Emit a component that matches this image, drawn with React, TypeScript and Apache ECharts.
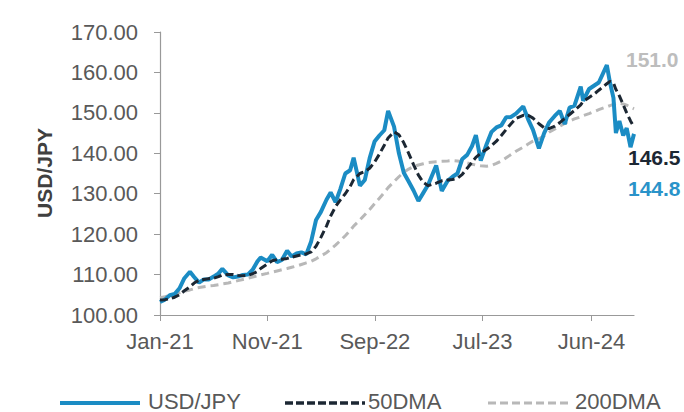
import React, { useEffect, useRef } from "react";
import * as echarts from "echarts";

const dates = [
  "2021-01-04","2021-01-18","2021-02-01","2021-02-15","2021-03-01","2021-03-15","2021-03-31","2021-04-12","2021-04-26","2021-05-10",
  "2021-05-24","2021-06-07","2021-06-21","2021-07-02","2021-07-19","2021-08-02","2021-08-16","2021-08-30","2021-09-13","2021-09-27",
  "2021-10-11","2021-10-20","2021-11-08","2021-11-22","2021-12-06","2021-12-20","2022-01-04","2022-01-17","2022-01-31","2022-02-14",
  "2022-02-28","2022-03-14","2022-03-28","2022-04-11","2022-04-27","2022-05-09","2022-05-23","2022-06-06","2022-06-20","2022-07-04",
  "2022-07-14","2022-08-01","2022-08-15","2022-08-29","2022-09-12","2022-09-26","2022-10-10","2022-10-21","2022-11-07","2022-11-21",
  "2022-12-05","2022-12-19","2023-01-02","2023-01-16","2023-01-30","2023-02-13","2023-03-08","2023-03-24","2023-04-10","2023-04-24",
  "2023-05-08","2023-05-22","2023-06-05","2023-06-19","2023-06-30","2023-07-14","2023-07-31","2023-08-14","2023-08-28","2023-09-11",
  "2023-09-25","2023-10-09","2023-10-23","2023-11-13","2023-11-27","2023-12-11","2023-12-28","2024-01-12","2024-01-26","2024-02-12",
  "2024-02-26","2024-03-11","2024-03-25","2024-04-08","2024-04-26","2024-05-03","2024-05-20","2024-06-03","2024-06-17","2024-07-10",
  "2024-07-19","2024-07-29","2024-08-05","2024-08-15","2024-08-26","2024-09-05","2024-09-16","2024-09-26",
];

const usdJpy = [
  103.2,103.8,104.9,105.2,106.6,109.1,110.7,109.4,108.0,108.8,
  108.8,109.5,110.3,111.4,109.8,109.3,109.5,109.9,110.0,111.2,
  113.3,114.2,113.3,114.9,113.1,113.6,115.9,114.5,115.2,115.5,
  115.0,118.2,123.5,125.5,128.5,130.3,127.9,131.2,135.0,135.8,
  138.9,132.0,133.4,138.8,142.9,144.4,145.7,150.5,146.6,140.0,
  135.2,133.0,130.8,128.2,130.2,132.2,137.0,130.7,133.2,134.2,
  135.0,138.6,139.6,141.8,144.5,138.2,142.3,145.3,146.4,146.9,
  148.9,149.0,149.8,151.6,148.4,145.8,141.2,145.0,147.6,149.3,
  150.5,147.2,151.3,151.8,156.5,153.0,155.9,156.7,157.5,161.8,
  157.5,153.7,145.0,148.0,144.4,146.2,141.5,144.8,
];

const dma50 = [
  103.7,103.8,104.0,104.4,105.0,106.0,107.0,107.9,108.6,108.8,
  109.0,109.1,109.5,109.9,110.0,110.0,109.8,109.7,109.8,110.2,
  110.8,111.5,112.6,113.4,113.7,113.8,114.0,114.3,114.6,114.9,
  115.1,115.6,117.0,119.2,122.0,124.5,126.8,128.5,130.0,131.8,
  133.5,135.0,135.5,136.3,137.8,139.8,142.0,143.8,145.3,144.6,
  142.6,140.0,137.2,134.6,132.8,132.0,132.6,133.2,133.4,133.5,
  133.8,134.8,136.3,137.8,139.0,140.0,141.0,141.9,143.0,144.4,
  145.9,147.3,148.6,149.4,149.4,148.7,147.3,146.3,146.1,146.7,
  147.6,148.6,149.6,150.6,152.0,152.8,153.8,154.6,155.6,157.2,
  157.8,157.4,155.8,154.2,152.0,150.0,148.0,146.5,
];

const dma200 = [
  104.3,104.5,104.8,105.1,105.5,105.9,106.2,106.5,106.8,107.0,
  107.2,107.3,107.5,107.7,107.9,108.2,108.5,108.8,109.1,109.4,
  109.7,109.9,110.3,110.6,110.9,111.2,111.5,111.8,112.1,112.5,
  112.9,113.3,113.9,114.6,115.4,116.3,117.3,118.4,119.6,120.9,
  122.0,123.5,124.8,126.1,127.5,128.9,130.3,131.5,133.0,134.2,
  135.3,136.1,136.7,137.1,137.4,137.7,137.9,138.0,138.1,138.2,
  138.1,137.9,137.6,137.3,137.1,136.9,136.8,137.0,137.5,138.1,
  138.9,139.7,140.5,141.5,142.3,143.0,143.6,144.3,145.2,146.0,
  146.7,147.4,148.0,148.5,149.0,149.3,149.8,150.3,150.8,151.5,
  151.8,152.1,152.3,152.4,152.2,151.9,151.4,151.0,
];

const tickDates = ["2021-01-04", "2021-11-08", "2022-09-13", "2023-07-19", "2024-05-27"];
const tickLabels = ["Jan-21", "Nov-21", "Sep-22", "Jul-23", "Jun-24"];

const yMin = 100;
const yMax = 170;
const yStep = 10;
const yTitle = "USD/JPY";

const seriesNames = ["USD/JPY", "50DMA", "200DMA"];

const FONT = '"Liberation Sans", Arial, Helvetica, sans-serif';

const C_PX = "#1b8cc4";
const C_50 = "#1c2733";
const C_200 = "#b8b8b8";

export default function App() {
  const ref = useRef<HTMLDivElement>(null);

  useEffect(() => {
    document.body.style.margin = "0";
    if (!ref.current) return;
    const chart = echarts.init(ref.current, undefined, { renderer: "svg" });

    const DAY = 86400000;
    const t0 = Date.parse(dates[0]);
    const xs = dates.map((d) => Math.round((Date.parse(d) - t0) / DAY));
    const tickXs = tickDates.map((d) => Math.round((Date.parse(d) - t0) / DAY));
    const mk = (vals: number[]) => xs.map((x, i) => [x, vals[i]]);
    const lastPx = usdJpy[usdJpy.length - 1];
    const last50 = dma50[dma50.length - 1];
    const last200 = dma200[dma200.length - 1];

    const legendItems = [
      { name: seriesNames[0], x1: 60, x2: 140, tx: 148, color: C_PX, dash: null as any, w: 4 },
      { name: seriesNames[1], x1: 285, x2: 365, tx: 368, color: C_50, dash: [8, 3], w: 3.5 },
      { name: seriesNames[2], x1: 488, x2: 572, tx: 575, color: C_200, dash: [8, 4], w: 3 },
    ];
    const legendGraphics: any[] = [];
    legendItems.forEach((it) => {
      legendGraphics.push({
        type: "line",
        shape: { x1: it.x1, y1: 403, x2: it.x2, y2: 403 },
        style: { stroke: it.color, lineWidth: it.w, lineDash: it.dash || undefined },
      });
      legendGraphics.push({
        type: "text",
        x: it.tx,
        y: 401,
        style: { text: it.name, fill: "#595959", font: `22px ${FONT}`, verticalAlign: "middle", align: "left" },
      });
    });

    const option: any = {
      animation: false,
      backgroundColor: "#ffffff",
      textStyle: { fontFamily: FONT },
      grid: {
        left: 160,
        top: 32,
        width: 474,
        height: 283,
        containLabel: false,
        outerBoundsMode: "none",
      },
      xAxis: {
        type: "value",
        min: 0,
        max: xs[xs.length - 1],
        splitLine: { show: false },
        axisLine: { show: true, onZero: false, lineStyle: { color: "#999999", width: 1.2 } },
        axisTick: {
          show: true,
          length: 6,
          customValues: tickXs,
          lineStyle: { color: "#999999" },
        },
        axisLabel: {
          customValues: tickXs,
          color: "#595959",
          fontSize: 22,
          fontFamily: FONT,
          margin: 15,
          hideOverlap: false,
          formatter: (v: number) => {
            let best = 0;
            let bd = Infinity;
            tickXs.forEach((t, i) => {
              const d = Math.abs(t - v);
              if (d < bd) {
                bd = d;
                best = i;
              }
            });
            return tickLabels[best];
          },
        },
      },
      yAxis: {
        type: "value",
        min: yMin,
        max: yMax,
        interval: yStep,
        splitLine: { show: false },
        axisLine: { show: true, lineStyle: { color: "#999999", width: 1.2 } },
        axisTick: { show: true, length: 6, lineStyle: { color: "#999999" } },
        axisLabel: {
          color: "#595959",
          fontSize: 22,
          fontFamily: FONT,
          margin: 22,
          formatter: (v: number) => v.toFixed(2),
        },
      },
      series: [
        {
          name: seriesNames[0],
          type: "line",
          data: mk(usdJpy),
          symbol: "none",
          z: 3,
          lineStyle: { color: C_PX, width: 4 },
          itemStyle: { color: C_PX },
        },
        {
          name: seriesNames[1],
          type: "line",
          data: mk(dma50),
          symbol: "none",
          z: 4,
          lineStyle: { color: C_50, width: 3, type: [8, 4] },
          itemStyle: { color: C_50 },
        },
        {
          name: seriesNames[2],
          type: "line",
          data: mk(dma200),
          symbol: "none",
          z: 2,
          lineStyle: { color: C_200, width: 3, type: [8, 5] },
          itemStyle: { color: C_200 },
        },
      ],
      graphic: [
        {
          type: "text",
          x: 44,
          y: 173,
          rotation: Math.PI / 2,
          style: { text: yTitle, fill: "#404040", font: `bold 21px ${FONT}`, verticalAlign: "middle", align: "center" },
        },
        {
          type: "text",
          x: 626,
          y: 59,
          style: { text: last200.toFixed(1), fill: "#bdbdbd", font: `bold 21px ${FONT}`, verticalAlign: "middle", align: "left" },
        },
        {
          type: "text",
          x: 628,
          y: 157,
          style: { text: last50.toFixed(1), fill: C_50, font: `bold 21px ${FONT}`, verticalAlign: "middle", align: "left" },
        },
        {
          type: "text",
          x: 628,
          y: 188,
          style: { text: lastPx.toFixed(1), fill: "#2a93c9", font: `bold 21px ${FONT}`, verticalAlign: "middle", align: "left" },
        },
        ...legendGraphics,
      ],
    };

    chart.setOption(option);
    return () => chart.dispose();
  }, []);

  return <div ref={ref} style={{ width: 684, height: 412 }} />;
}
